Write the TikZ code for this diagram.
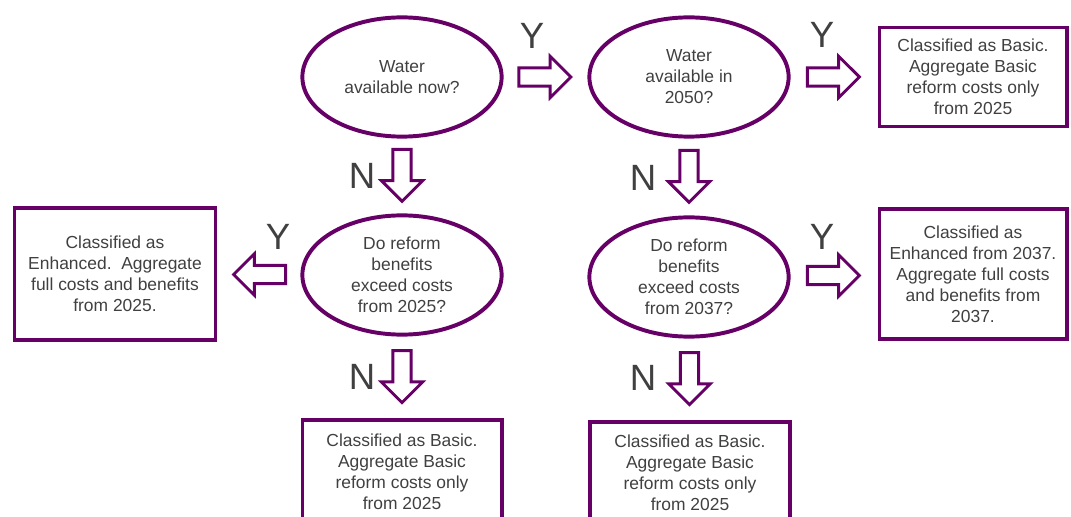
\documentclass[tikz,border=0pt]{standalone}
\usepackage{fontspec}
\setmainfont{Liberation Sans}
\usetikzlibrary{shapes.geometric,shapes.arrows,positioning,calc}
\definecolor{vio}{RGB}{102,0,102}
\definecolor{txt}{RGB}{64,64,64}

\begin{document}
\begin{tikzpicture}[x=0.025cm, y=-0.025cm,
  quest/.style={draw=vio, line width=2.8pt, ellipse, minimum width=4.98cm, minimum height=2.98cm, inner sep=0pt, align=center, text=txt, font=\fontsize{12.4}{14.9}\selectfont},
  result/.style={draw=vio, line width=2.8pt, inner sep=0pt, align=center, text=txt, font=\fontsize{12.4}{14.9}\selectfont},
  barrow/.style={draw=vio, fill=white, line width=2.1pt, single arrow, single arrow head extend=0.29cm, minimum height=1.3cm, inner sep=0.19cm},
  toright/.style={xshift=-0.13cm},
  todown/.style={rotate=-90, xshift=-0.13cm},
  toleft/.style={rotate=180, xshift=-0.13cm},
  yn/.style={text=txt, font=\fontsize{26}{26}\selectfont, inner sep=0pt}
]
  \useasboundingbox (0,0) rectangle (1071,517);

  % questions
  \node[quest] (wnow) at (402,77) {Water\\available now?};
  \node[quest] (w2050) at (689,77) {Water\\available in\\2050?};
  \node[quest] (q2025) at (402,275) {Do reform\\benefits\\exceed costs\\from 2025?};
  \node[quest] (q2037) at (689,277) {Do reform\\benefits\\exceed costs\\from 2037?};

  % outcomes
  \node[result, minimum width=4.675cm, minimum height=2.475cm] (basic1) at (973,77) {Classified as Basic.\\Aggregate Basic\\reform costs only\\from 2025};
  \node[result, minimum width=4.675cm, minimum height=3.25cm] (enh2037) at (973,274) {Classified as\\Enhanced from 2037.\\Aggregate full costs\\and benefits from\\2037.};
  \node[result, minimum width=5.025cm, minimum height=3.28cm] (enh2025) at (115,274) {Classified as\\Enhanced.\ \ Aggregate\\full costs and benefits\\from 2025.};
  \node[result, minimum width=4.975cm, minimum height=2.6cm] (basic2) at (402,472) {Classified as Basic.\\Aggregate Basic\\reform costs only\\from 2025};
  \node[result, minimum width=5.0cm, minimum height=2.55cm] (basic3) at (690,473) {Classified as Basic.\\Aggregate Basic\\reform costs only\\from 2025};

  % block arrows
  \node[barrow, toright] (a1) at ($(wnow.east)!0.5!(w2050.west)$) {};
  \node[barrow, toright] (a2) at ($(w2050.east)!0.5!(basic1.west)$) {};
  \node[barrow, todown] (a3) at ($(wnow.south)!0.5!(q2025.north)$) {};
  \node[barrow, todown] (a4) at ($(w2050.south)!0.5!(q2037.north)$) {};
  \node[barrow, toleft] (a5) at ($(q2025.west)!0.5!(enh2025.east)$) {};
  \node[barrow, toright] (a6) at ($(q2037.east)!0.5!(enh2037.west)$) {};
  \node[barrow, todown] (a7) at ($(q2025.south)!0.5!(basic2.north)$) {};
  \node[barrow, todown] (a8) at ($(q2037.south)!0.5!(basic3.north)$) {};

  % labels
  \node[yn] (y1) at (532,36) {Y};
  \node[yn] (y2) at (822,35) {Y};
  \node[yn] (n1) at (362,176) {N};
  \node[yn] (n2) at (643,178) {N};
  \node[yn] (y3) at (278,237) {Y};
  \node[yn] (y4) at (822,237) {Y};
  \node[yn] (n3) at (362,377) {N};
  \node[yn] (n4) at (643,378) {N};
\end{tikzpicture}
\end{document}
